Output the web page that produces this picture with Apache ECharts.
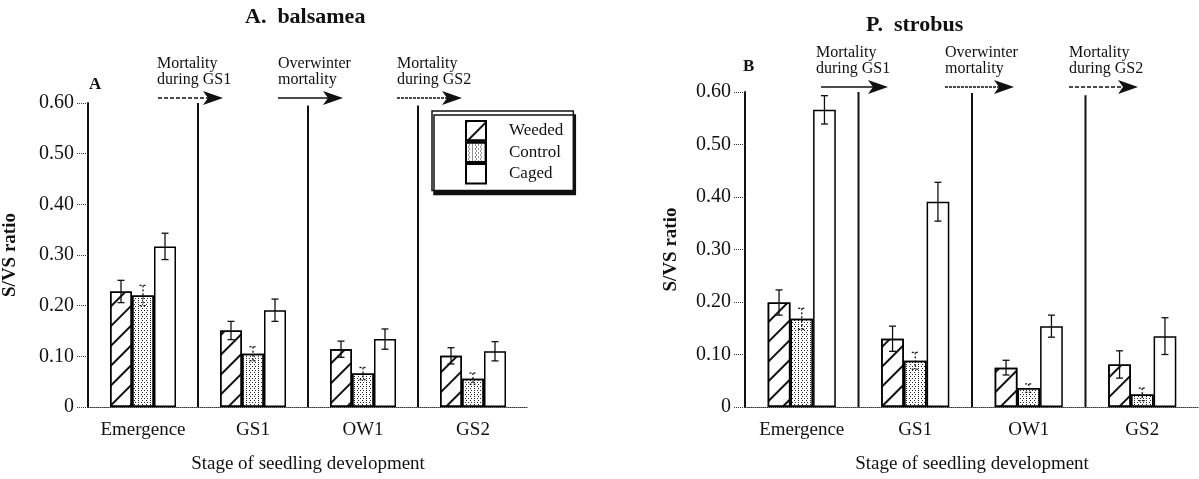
<!DOCTYPE html>
<html><head><meta charset="utf-8">
<script src="https://cdn.jsdelivr.net/npm/echarts@6/dist/echarts.min.js"></script>
<style>html,body{margin:0;padding:0;background:#fff}#c{width:1199px;height:479px}</style>
</head><body><div id="c"></div>
<script>
const categories = ['Emergence', 'GS1', 'OW1', 'GS2'];
const seriesNames = ['Weeded', 'Control', 'Caged'];
// A. balsamea
const weededA = [0.228, 0.151, 0.114, 0.101];
const weededAErr = [0.022, 0.018, 0.016, 0.016];
const controlA = [0.220, 0.105, 0.066, 0.056];
const controlAErr = [0.020, 0.014, 0.012, 0.011];
const cagedA = [0.317, 0.191, 0.134, 0.110];
const cagedAErr = [0.026, 0.022, 0.020, 0.019];
// P. strobus
const weededB = [0.199, 0.130, 0.075, 0.081];
const weededBErr = [0.024, 0.024, 0.014, 0.026];
const controlB = [0.168, 0.088, 0.036, 0.024];
const controlBErr = [0.020, 0.016, 0.008, 0.012];
const cagedB = [0.566, 0.391, 0.154, 0.135];
const cagedBErr = [0.027, 0.037, 0.021, 0.035];
// separators top values
const sepTopA = [0.60, 0.595, 0.595];
const sepTopB = [0.60, 0.598, 0.594];
const yMin = 0, yMax = 0.6, yStep = 0.1;

const SERIF = '"Liberation Serif","DejaVu Serif",serif';
const GAP = 0.4;

const styles = [
  {color: '#fff', borderColor: '#000', borderWidth: 1.5,
   decal: {symbol: 'rect', symbolSize: 1, dashArrayX: [1, 0], dashArrayY: [2, 12], rotation: -Math.PI / 4, color: '#111'}},
  {color: '#fff', borderColor: '#000', borderWidth: 1.5,
   decal: {symbol: 'rect', symbolSize: 1, dashArrayX: [[1, 2], [0, 1.5, 1, 0.5]], dashArrayY: [1, 1], rotation: 0, color: '#222'}},
  {color: '#fff', borderColor: '#000', borderWidth: 1.5}
];
const errDash = ['solid', [2, 2], 'solid'];

function errSeries(k, vals, errs, gi) {
  return {
    type: 'custom', xAxisIndex: gi, yAxisIndex: gi, z: 5, silent: true,
    data: vals.map((v, i) => [i, v, errs[i]]),
    renderItem: function (params, api) {
      const i = api.value(0), v = api.value(1), e = api.value(2);
      const c = api.coord([i, v]);
      const catW = api.size([1, 0])[0];
      const bw = catW * (1 - GAP) / 3;
      const x = c[0] + (k - 1) * bw;
      const t = api.coord([i, v + e])[1];
      const b = api.coord([i, v - e])[1];
      const st = {stroke: '#111', lineWidth: 1.3, lineDash: errDash[k] === 'solid' ? null : errDash[k]};
      return {type: 'group', children: [
        {type: 'line', shape: {x1: x, y1: t, x2: x, y2: b}, style: st},
        {type: 'line', shape: {x1: x - 3.5, y1: t, x2: x + 3.5, y2: t}, style: st},
        {type: 'line', shape: {x1: x - 3.5, y1: b, x2: x + 3.5, y2: b}, style: st}
      ]};
    }
  };
}
function sepSeries(tops, gi) {
  return {
    type: 'custom', xAxisIndex: gi, yAxisIndex: gi, z: 4, silent: true,
    data: tops.map((t, i) => [i, t]),
    renderItem: function (params, api) {
      const i = api.value(0);
      const a = api.coord([i, 0]), b = api.coord([i + 1, 0]);
      const x = (a[0] + b[0]) / 2;
      const top = api.coord([i, api.value(1)])[1];
      return {type: 'line', shape: {x1: x, y1: a[1], x2: x, y2: top}, style: {stroke: '#111', lineWidth: 2}};
    }
  };
}
function barSeries(k, vals, gi) {
  return {
    name: seriesNames[k], type: 'bar', xAxisIndex: gi, yAxisIndex: gi,
    data: vals, barGap: 0, barCategoryGap: (GAP * 100) + '%',
    itemStyle: styles[k], silent: true
  };
}
function xAxis(gi) {
  return {
    type: 'category', gridIndex: gi, data: categories,
    axisLine: {lineStyle: {color: '#333', type: 'dotted', width: 1}},
    axisTick: {show: false},
    axisLabel: {color: '#111', fontFamily: SERIF, fontSize: 19, margin: 14, interval: 0},
    name: 'Stage of seedling development', nameLocation: 'middle', nameGap: 48,
    nameTextStyle: {color: '#111', fontFamily: SERIF, fontSize: 19}
  };
}
function yAxis(gi, gap) {
  return {
    type: 'value', gridIndex: gi, min: yMin, max: yMax, interval: yStep,
    axisLine: {show: true, lineStyle: {color: '#111', width: 2}},
    axisTick: {show: true, length: 11, lineStyle: {color: '#333', type: 'dotted', width: 1}},
    splitLine: {show: false},
    axisLabel: {color: '#111', fontFamily: SERIF, fontSize: 20, margin: 14,
      formatter: v => v === 0 ? '0' : v.toFixed(2)},
    name: 'S/VS ratio', nameLocation: 'middle', nameGap: gap,
    nameTextStyle: {color: '#111', fontFamily: SERIF, fontSize: 19, fontWeight: 'bold'}
  };
}
function arrow(x1, x2, y, dash) {
  return {type: 'group', children: [
    {type: 'line', shape: {x1: x1, y1: y, x2: x2 - 10, y2: y}, style: {stroke: '#111', lineWidth: 1.5, lineDash: dash}},
    {type: 'polygon', shape: {points: [[x2 - 20, y - 7], [x2, y], [x2 - 20, y + 7], [x2 - 15, y]]}, style: {fill: '#111'}}
  ]};
}
function note(x, y, txt) {
  return {type: 'text', left: x, top: y, style: {text: txt, font: '16px ' + SERIF, fill: '#111', lineHeight: 16}};
}

const chart = echarts.init(document.getElementById('c'), null, {renderer: 'canvas'});
chart.setOption({
  animation: false,
  backgroundColor: '#fff',
  grid: [
    {left: 85, right: 671, top: 103, bottom: 61},
    {left: 745, right: -8, top: 92, bottom: 60}
  ],
  xAxis: [xAxis(0), xAxis(1)],
  yAxis: [yAxis(0, 68), yAxis(1, 64)],
  legend: {
    data: seriesNames, orient: 'vertical', left: 432, top: 111,
    icon: 'rect',
    itemWidth: 20, itemHeight: 19.5, itemGap: 0, selectedMode: false,
    padding: [9, 10, 6, 33],
    backgroundColor: '#fff', borderColor: '#111', borderWidth: 1.5,
    shadowColor: '#111', shadowOffsetX: 2, shadowOffsetY: 4, shadowBlur: 0,
    textStyle: {fontFamily: SERIF, fontSize: 17, lineHeight: 19, color: '#111', padding: [0, 0, 0, 18]}
  },
  series: [
    barSeries(0, weededA, 0), barSeries(1, controlA, 0), barSeries(2, cagedA, 0),
    errSeries(0, weededA, weededAErr, 0), errSeries(1, controlA, controlAErr, 0), errSeries(2, cagedA, cagedAErr, 0),
    sepSeries(sepTopA, 0),
    barSeries(0, weededB, 1), barSeries(1, controlB, 1), barSeries(2, cagedB, 1),
    errSeries(0, weededB, weededBErr, 1), errSeries(1, controlB, controlBErr, 1), errSeries(2, cagedB, cagedBErr, 1),
    sepSeries(sepTopB, 1)
  ],
  graphic: [
    {type: 'text', left: 245, top: 6, style: {text: 'A.  balsamea', font: 'bold 22px ' + SERIF, fill: '#111'}},
    {type: 'text', left: 866, top: 14, style: {text: 'P.  strobus', font: 'bold 22px ' + SERIF, fill: '#111'}},
    {type: 'text', left: 89, top: 76, style: {text: 'A', font: 'bold 17px ' + SERIF, fill: '#111'}},
    {type: 'text', left: 743, top: 58, style: {text: 'B', font: 'bold 17px ' + SERIF, fill: '#111'}},
    note(157, 56, 'Mortality\nduring GS1'),
    note(278, 56, 'Overwinter\nmortality'),
    note(397, 56, 'Mortality\nduring GS2'),
    arrow(158, 223, 98, [4, 2]),
    arrow(278, 343, 98, null),
    arrow(397, 462, 98, [3, 1]),
    note(816, 45, 'Mortality\nduring GS1'),
    note(945, 45, 'Overwinter\nmortality'),
    note(1069, 45, 'Mortality\nduring GS2'),
    arrow(821, 888, 87, null),
    arrow(945, 1014, 87, [3, 1]),
    arrow(1069, 1138, 87, [4, 2])
  ]
});
</script></body></html>
